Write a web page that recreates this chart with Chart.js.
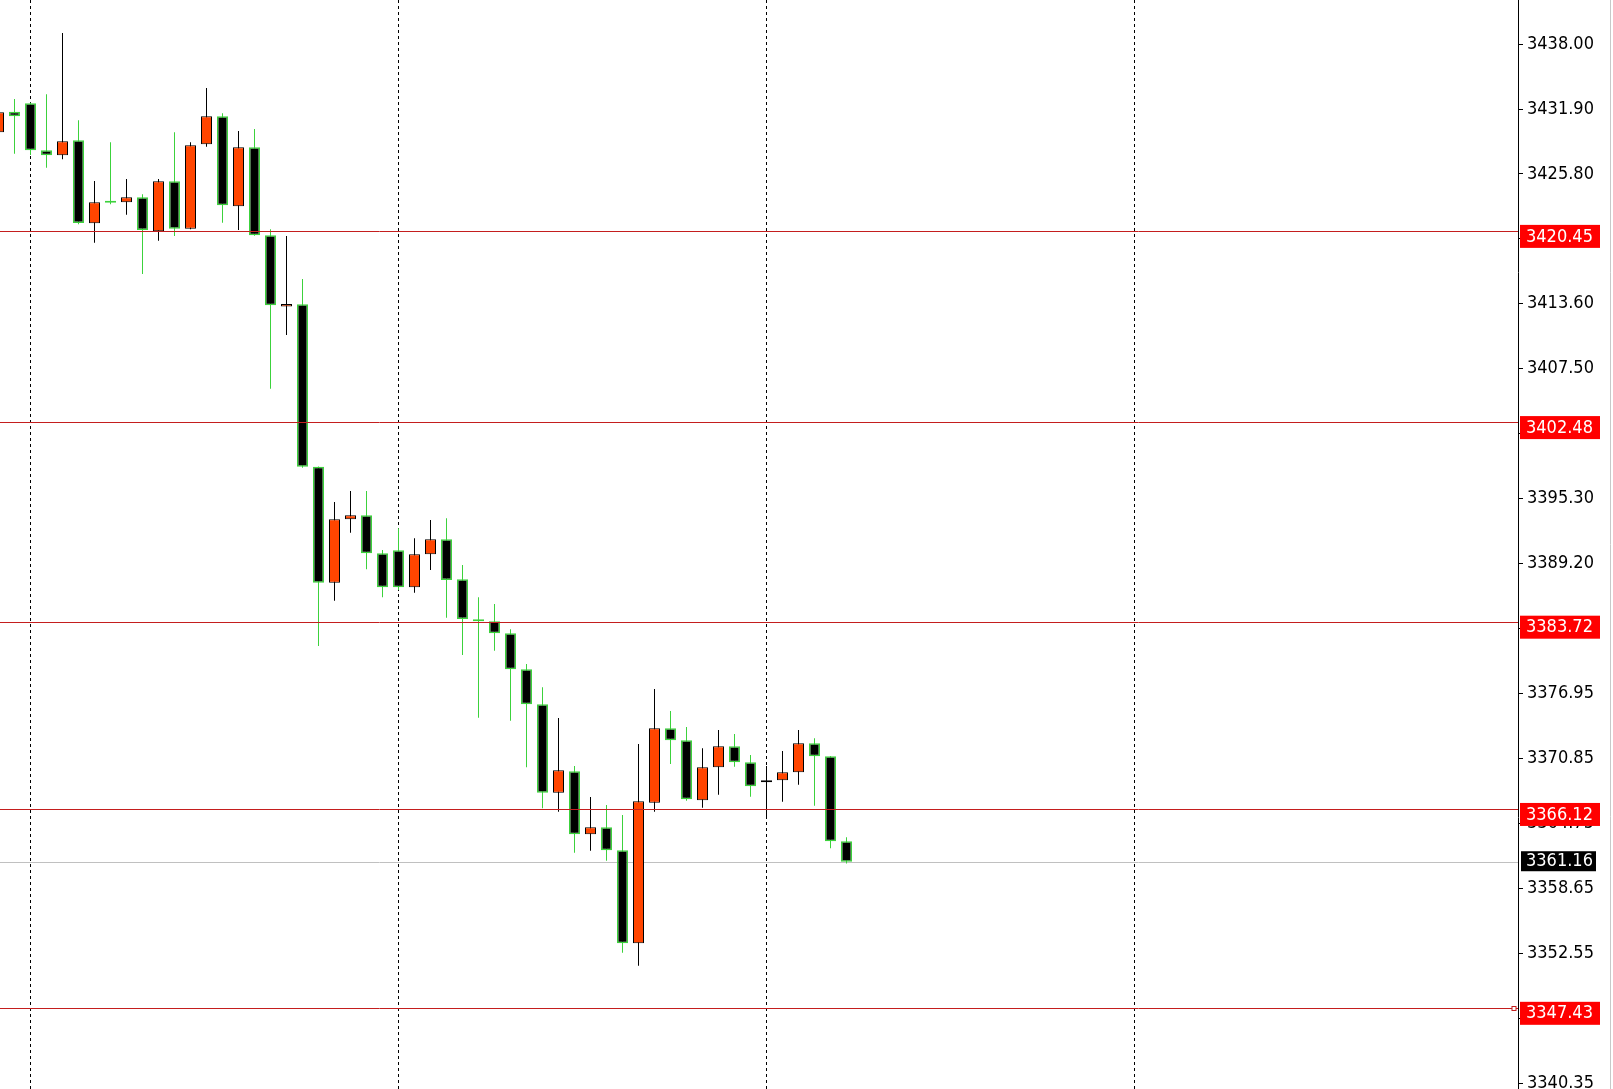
<!DOCTYPE html>
<html lang="en">
<head>
  <meta charset="UTF-8">
  <title>Candles</title>
  <script src="https://cdn.jsdelivr.net/npm/chart.js@4.4.1/dist/chart.umd.min.js"></script>
  <style>
    html, body { margin: 0; padding: 0; background: #fff; }
    canvas { display: block; }
  </style>
</head>
<body>
  <canvas id="chart" width="1613" height="1089"></canvas>

  <script>
    // --- OHLC, one entry per bar ---
    const opens  = [3429.72, 3431.65, 3432.44, 3428.02, 3427.55, 3428.96, 3421.16, 3423.14, 3423.14, 3423.61,
                    3420.41, 3425.11, 3420.66, 3428.59, 3431.22, 3422.76, 3428.31, 3420.03, 3413.35, 3413.55,
                    3398.29, 3387.39, 3393.35, 3393.72, 3390.15, 3390.43, 3386.95, 3390.06, 3391.46, 3387.70,
                    3383.80, 3383.76, 3382.63, 3379.25, 3375.96, 3367.65, 3369.66, 3363.74, 3364.40, 3362.23,
                    3353.49, 3366.71, 3373.70, 3372.57, 3366.93, 3370.04, 3372.01, 3370.51, 3368.63, 3368.82,
                    3369.57, 3372.29, 3371.07, 3363.08];
    const highs  = [3431.60, 3432.85, 3432.50, 3433.29, 3439.05, 3430.84, 3425.14, 3428.78, 3425.33, 3423.89,
                    3425.33, 3429.72, 3428.78, 3433.88, 3431.50, 3429.84, 3430.03, 3420.60, 3419.97, 3415.93,
                    3398.30, 3394.97, 3396.00, 3396.00, 3390.46, 3392.50, 3391.56, 3393.28, 3393.44, 3389.05,
                    3386.01, 3385.38, 3383.00, 3379.75, 3377.56, 3374.67, 3370.16, 3367.24, 3366.49, 3365.55,
                    3372.23, 3377.39, 3375.33, 3373.82, 3371.82, 3373.54, 3373.17, 3371.19, 3370.16, 3371.57,
                    3373.54, 3372.76, 3371.10, 3363.46];
    const lows   = [3429.72, 3427.70, 3427.58, 3426.39, 3427.18, 3421.07, 3419.34, 3422.95, 3421.97, 3416.40,
                    3419.53, 3419.97, 3420.60, 3428.36, 3421.22, 3420.53, 3420.00, 3405.62, 3410.67, 3398.20,
                    3381.44, 3385.69, 3392.08, 3388.64, 3386.01, 3386.70, 3386.45, 3388.58, 3384.10, 3380.59,
                    3374.70, 3380.99, 3374.42, 3370.03, 3366.18, 3365.86, 3362.01, 3362.20, 3361.26, 3352.61,
                    3351.39, 3365.86, 3370.35, 3366.90, 3366.24, 3367.46, 3370.09, 3367.27, 3365.24, 3366.80,
                    3368.40, 3366.43, 3362.42, 3361.00];
    const closes = [3431.60, 3431.22, 3428.02, 3427.55, 3428.87, 3421.19, 3423.14, 3423.10, 3423.61, 3420.53,
                    3425.11, 3420.66, 3428.49, 3431.22, 3422.85, 3428.31, 3420.03, 3413.46, 3413.58, 3398.29,
                    3387.39, 3393.35, 3393.72, 3390.15, 3386.95, 3386.95, 3390.06, 3391.46, 3387.64, 3383.97,
                    3383.76, 3382.63, 3379.25, 3375.96, 3367.65, 3369.75, 3363.74, 3364.40, 3362.23, 3353.49,
                    3366.84, 3373.70, 3372.57, 3367.03, 3370.04, 3372.01, 3370.51, 3368.25, 3368.82, 3369.57,
                    3372.29, 3371.07, 3363.08, 3361.16];

    // price axis labels
    const yTicks = [3438.00, 3431.90, 3425.80, 3419.70, 3413.60, 3407.50, 3401.40, 3395.30, 3389.20,
                    3383.10, 3376.95, 3370.85, 3364.75, 3358.65, 3352.55, 3346.45, 3340.35];
    // horizontal levels (red) and the current price (grey)
    const levels = [3420.45, 3402.48, 3383.72, 3366.12, 3347.43];
    const lastPrice = 3361.16;
    // bars where the dotted period separators fall
    const separators = [2, 25, 48, 71];

    // --- colours ---
    const BULL = '#FF4500';
    const BEAR = '#000000';
    const GREEN = '#3CD23C';
    const LEVEL_RED = '#C41E1E';
    const FONT = '"DejaVu Sans Condensed", "Liberation Sans", Arial, sans-serif';

    const isBull = opens.map((o, i) => closes[i] > o);
    const wickData = opens.map((o, i) => ({ x: i, y: [lows[i], highs[i]] }));
    const bodyData = opens.map((o, i) => ({ x: i, y: [o, closes[i]] }));

    const levelPlugin = {
      id: 'levelPlugin',
      beforeDatasetsDraw(chart) {
        const { ctx, chartArea, scales: { y } } = chart;
        const py = Math.round(y.getPixelForValue(lastPrice)) + 0.5;
        ctx.save();
        ctx.strokeStyle = '#C0C0C0';
        ctx.lineWidth = 1;
        ctx.beginPath();
        ctx.moveTo(chartArea.left, py);
        ctx.lineTo(chartArea.right, py);
        ctx.stroke();
        ctx.restore();
      },
      afterDatasetsDraw(chart) {
        const { ctx, chartArea, scales: { y } } = chart;
        ctx.save();
        ctx.strokeStyle = LEVEL_RED;
        ctx.lineWidth = 1;
        levels.forEach(v => {
          const py = Math.round(y.getPixelForValue(v)) + 0.5;
          ctx.beginPath();
          ctx.moveTo(chartArea.left, py);
          ctx.lineTo(chartArea.right, py);
          ctx.stroke();
        });
        // small anchor square on the lowest level
        const pLow = Math.round(y.getPixelForValue(levels[levels.length - 1])) + 0.5;
        ctx.fillStyle = '#fff';
        ctx.fillRect(chartArea.right - 6, pLow - 2, 4, 4);
        ctx.strokeRect(chartArea.right - 6, pLow - 2, 4, 4);
        ctx.restore();
      },
      afterDraw(chart) {
        const { ctx, chartArea, scales: { y } } = chart;
        const x0 = chartArea.right;
        ctx.save();
        ctx.font = '18px ' + FONT;
        ctx.textBaseline = 'middle';
        ctx.textAlign = 'left';
        levels.forEach(v => {
          const py = y.getPixelForValue(v);
          ctx.fillStyle = '#FF0000';
          ctx.fillRect(x0 + 2, py - 6, 80, 23);
          ctx.fillStyle = '#fff';
          ctx.fillText(v.toFixed(2), x0 + 8, py + 6);
        });
        const pl = y.getPixelForValue(lastPrice);
        ctx.fillStyle = '#000';
        ctx.fillRect(x0 + 3, pl - 10.5, 75, 20);
        ctx.fillStyle = '#fff';
        ctx.fillText(lastPrice.toFixed(2), x0 + 8, pl);
        // right frame
        ctx.strokeStyle = '#C8C8C8';
        ctx.beginPath();
        ctx.moveTo(1610.5, 0);
        ctx.lineTo(1610.5, chart.height);
        ctx.stroke();
        ctx.restore();
      }
    };

    new Chart(document.getElementById('chart'), {
      type: 'bar',
      data: {
        datasets: [
          {
            label: 'wick',
            data: wickData,
            backgroundColor: isBull.map(b => b ? BEAR : GREEN),
            borderWidth: 0,
            barThickness: 1,
            order: 2
          },
          {
            label: 'body',
            data: bodyData,
            backgroundColor: isBull.map(b => b ? BULL : BEAR),
            borderColor: isBull.map(b => b ? '#000' : GREEN),
            borderWidth: isBull.map(b => b ? 1 : 1.5),
            borderSkipped: false,
            barThickness: 11,
            minBarLength: 2,
            order: 1
          }
        ]
      },
      options: {
        responsive: false,
        animation: false,
        layout: { padding: 0 },
        datasets: { bar: { grouped: false, inflateAmount: 0 } },
        plugins: { legend: { display: false }, tooltip: { enabled: false } },
        scales: {
          x: {
            type: 'linear',
            min: 0.09375,
            max: 0.09375 + 1518 / 16,
            offset: false,
            grid: { offset: false, color: '#000', drawTicks: false, lineWidth: 1 },
            border: { display: false, dash: [3, 3] },
            ticks: { display: false },
            afterBuildTicks: s => { s.ticks = separators.map(v => ({ value: v })); }
          },
          y: {
            position: 'right',
            min: 3339.80,
            max: 3442.15,
            grid: { drawOnChartArea: false, drawTicks: true, tickLength: 5, color: '#000' },
            border: { display: true, color: '#000', width: 1 },
            ticks: {
              color: '#000',
              padding: 4,
              autoSkip: false,
              font: { family: FONT, size: 18 },
              callback: v => Number(v).toFixed(2)
            },
            afterBuildTicks: s => { s.ticks = yTicks.map(v => ({ value: v })); },
            afterFit: s => { s.width = 95; s.paddingTop = 0; s.paddingBottom = 0; }
          }
        }
      },
      plugins: [levelPlugin]
    });
  </script>
</body>
</html>
